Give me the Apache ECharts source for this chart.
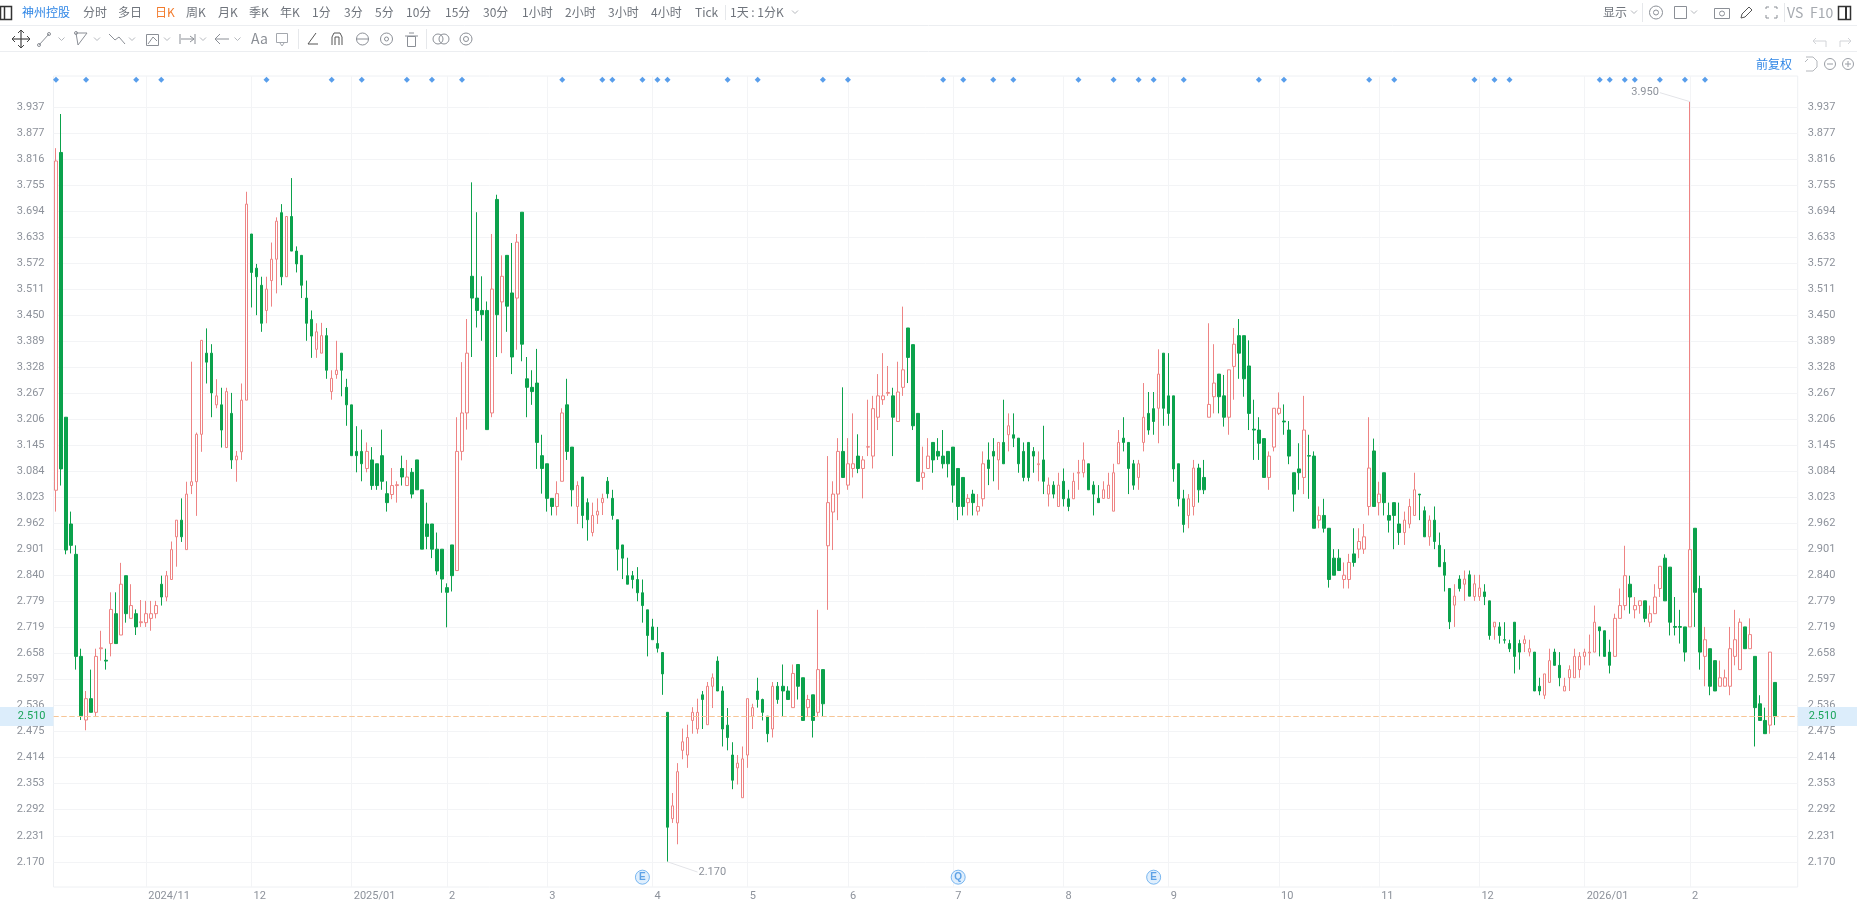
<!DOCTYPE html>
<html><head><meta charset="utf-8">
<style>html,body{margin:0;padding:0;background:#fff;overflow:hidden}#c{width:1857px;height:906px}</style>
<script src="https://cdn.jsdelivr.net/npm/echarts@6/dist/echarts.min.js"></script>
</head><body><div id="c"></div>
<script>
const opens=[3.040,3.831,3.211,2.961,2.890,2.651,2.502,2.552,2.520,2.669,
2.642,2.681,2.751,2.701,2.840,2.740,2.751,2.730,2.730,2.740,
2.751,2.820,2.790,2.831,2.931,2.970,2.901,3.051,3.060,3.171,
3.361,3.361,3.240,3.240,3.140,3.220,3.111,3.130,3.251,3.640,
3.560,3.520,3.461,3.531,3.581,3.690,3.540,3.681,3.600,3.590,
3.490,3.440,3.370,3.361,3.402,3.271,3.311,3.361,3.281,3.240,
3.131,3.131,3.091,3.111,3.102,3.121,3.032,3.030,3.051,3.091,
3.051,3.082,3.111,3.041,2.961,2.961,2.902,2.902,2.812,2.912,
2.852,3.131,3.221,3.541,3.490,3.461,3.461,3.221,3.721,3.481,
3.590,3.502,3.490,3.691,3.301,3.281,3.291,3.121,3.102,3.021,
3.002,3.061,3.240,3.141,3.002,3.071,3.011,2.941,2.982,3.011,
3.061,3.021,2.971,2.912,2.840,2.840,2.831,2.800,2.760,2.720,
2.681,2.660,2.520,2.271,2.261,2.431,2.420,2.501,2.481,2.561,
2.491,2.581,2.640,2.570,2.490,2.420,2.390,2.320,2.420,2.511,
2.570,2.550,2.511,2.481,2.581,2.581,2.570,2.531,2.632,2.601,
2.531,2.561,2.520,2.620,2.910,2.989,3.031,3.131,3.052,3.091,
3.120,3.091,3.141,3.120,3.211,3.252,3.267,3.261,3.201,3.281,
3.420,3.381,3.220,3.070,3.091,3.152,3.131,3.120,3.131,3.141,
3.091,3.070,3.011,3.031,2.991,3.020,3.111,3.131,3.111,3.152,
3.170,3.170,3.162,3.131,3.152,3.131,3.100,3.111,3.031,3.052,
3.002,3.061,3.020,3.020,3.080,3.081,3.102,3.052,3.021,3.021,
3.021,2.991,3.102,3.162,3.152,3.102,3.070,3.152,3.220,3.231,
3.232,3.361,3.261,3.261,3.102,3.020,2.981,3.002,3.092,3.070,
3.211,3.259,3.312,3.261,3.211,3.330,3.402,3.402,3.331,3.183,
3.181,3.161,3.070,3.141,3.220,3.202,3.181,3.081,3.090,3.070,
3.121,3.120,2.970,2.981,2.951,2.881,2.881,2.831,2.831,2.891,
2.902,2.902,3.002,3.132,3.011,3.081,2.981,3.011,2.961,2.941,
2.961,2.981,3.031,2.992,2.931,2.970,2.911,2.871,2.810,2.771,
2.832,2.820,2.842,2.791,2.791,2.802,2.781,2.720,2.720,2.690,
2.681,2.731,2.681,2.681,2.661,2.661,2.581,2.560,2.590,2.661,
2.630,2.570,2.601,2.601,2.620,2.651,2.659,2.661,2.720,2.711,
2.661,2.651,2.740,2.770,2.820,2.760,2.770,2.781,2.731,2.751,
2.810,2.881,2.860,2.721,2.721,2.720,2.720,2.951,2.810,2.651,
2.669,2.641,2.581,2.581,2.581,2.651,2.620,2.720,2.669,2.651,
2.540,2.501,2.490,2.590];
const closes=[3.811,3.090,2.900,2.911,2.651,2.512,2.552,2.520,2.651,2.671,
2.640,2.761,2.681,2.820,2.751,2.770,2.720,2.732,2.751,2.751,
2.770,2.790,2.840,2.901,2.970,2.931,3.031,3.060,3.171,3.391,
3.340,3.268,3.261,3.181,3.271,3.111,3.120,3.251,3.710,3.550,
3.540,3.431,3.511,3.581,3.670,3.540,3.681,3.600,3.570,3.520,
3.431,3.401,3.411,3.402,3.321,3.302,3.321,3.321,3.240,3.121,
3.121,3.102,3.131,3.051,3.051,3.061,3.011,3.051,3.053,3.071,
3.071,3.031,3.041,2.902,2.932,2.902,2.851,2.832,2.801,2.840,
3.131,3.221,3.361,3.490,3.461,3.451,3.182,3.511,3.451,3.541,
3.471,3.352,3.621,3.382,3.281,3.271,3.152,3.091,3.021,3.002,
3.032,3.221,3.131,3.041,3.051,2.981,2.971,2.981,2.991,3.021,
3.032,2.981,2.902,2.881,2.820,2.831,2.800,2.770,2.700,2.690,
2.670,2.610,2.251,2.301,2.381,2.451,2.461,2.520,2.520,2.550,
2.581,2.601,2.570,2.481,2.461,2.361,2.401,2.411,2.552,2.531,
2.550,2.520,2.470,2.581,2.550,2.570,2.550,2.611,2.581,2.501,
2.550,2.501,2.620,2.540,3.011,3.031,3.131,3.070,3.102,3.102,
3.091,3.111,3.142,3.231,3.261,3.261,3.269,3.211,3.270,3.322,
3.351,3.191,3.061,3.081,3.120,3.111,3.120,3.102,3.102,3.052,
3.002,3.002,3.021,3.011,3.002,3.102,3.091,3.120,3.152,3.102,
3.191,3.162,3.102,3.070,3.070,3.120,3.102,3.061,3.052,3.031,
3.052,3.020,3.002,3.061,3.082,3.111,3.041,3.031,3.011,3.041,
3.052,3.081,3.152,3.152,3.091,3.052,3.102,3.211,3.181,3.201,
3.312,3.232,3.220,3.090,3.020,2.960,3.020,3.092,3.041,3.041,
3.241,3.291,3.259,3.211,3.322,3.382,3.361,3.301,3.220,3.181,
3.150,3.070,3.120,3.232,3.232,3.200,3.120,3.031,3.081,3.181,
3.120,2.951,2.981,2.951,2.831,2.841,2.852,2.841,2.871,2.871,
2.920,2.931,3.092,3.002,3.031,3.011,2.970,2.981,2.941,2.970,
3.002,3.041,3.029,2.931,2.970,2.920,2.861,2.841,2.732,2.792,
2.810,2.832,2.792,2.821,2.811,2.791,2.700,2.731,2.700,2.689,
2.669,2.651,2.661,2.690,2.669,2.570,2.570,2.610,2.641,2.630,
2.601,2.581,2.620,2.651,2.651,2.661,2.661,2.731,2.711,2.651,
2.630,2.740,2.770,2.840,2.790,2.770,2.781,2.740,2.751,2.790,
2.862,2.781,2.731,2.719,2.719,2.661,2.901,2.801,2.661,2.690,
2.581,2.570,2.601,2.601,2.669,2.690,2.731,2.669,2.702,2.531,
2.501,2.470,2.661,2.510];
const lows=[2.990,3.051,2.890,2.892,2.620,2.502,2.478,2.520,2.511,2.641,
2.620,2.651,2.681,2.701,2.730,2.740,2.701,2.720,2.720,2.711,
2.740,2.770,2.780,2.831,2.861,2.919,2.901,3.031,2.980,3.130,
3.290,3.211,3.232,3.140,3.140,3.090,3.060,3.111,3.251,3.468,
3.450,3.411,3.431,3.470,3.501,3.520,3.540,3.600,3.550,3.490,
3.390,3.350,3.350,3.361,3.301,3.252,3.301,3.260,3.191,3.121,
3.082,3.061,3.082,3.041,3.041,3.041,2.990,3.019,3.011,3.051,
3.051,3.021,3.041,2.902,2.902,2.881,2.842,2.800,2.719,2.803,
2.852,3.110,3.182,3.352,3.421,3.390,3.182,3.211,3.352,3.361,
3.411,3.312,3.369,3.342,3.211,3.240,3.090,3.032,2.990,2.981,
2.981,3.061,3.111,3.002,2.961,2.951,2.922,2.932,2.961,2.982,
3.021,2.971,2.852,2.832,2.820,2.810,2.780,2.730,2.651,2.690,
2.660,2.561,2.170,2.261,2.211,2.410,2.390,2.470,2.470,2.481,
2.491,2.530,2.570,2.440,2.431,2.340,2.351,2.320,2.390,2.481,
2.531,2.501,2.450,2.461,2.540,2.509,2.550,2.531,2.550,2.501,
2.511,2.461,2.511,2.511,2.760,2.900,2.970,3.070,3.041,3.070,
3.080,3.021,3.120,3.091,3.181,3.240,3.261,3.120,3.201,3.261,
3.291,3.181,3.061,3.041,3.091,3.081,3.111,3.091,3.070,3.011,
2.970,2.981,2.981,2.981,2.981,3.002,3.052,3.061,3.041,3.102,
3.131,3.141,3.081,3.061,3.061,3.081,3.061,3.031,3.002,3.021,
3.002,3.002,2.991,3.020,3.041,3.070,3.041,2.981,3.011,3.021,
3.021,2.991,3.102,3.131,3.031,3.041,3.041,3.131,3.170,3.170,
3.150,3.191,3.191,3.060,3.002,2.941,2.951,2.981,3.011,3.031,
3.211,3.220,3.220,3.189,3.170,3.252,3.301,3.259,3.181,3.111,
3.111,3.070,3.041,3.131,3.216,3.170,3.101,2.990,3.041,3.031,
3.020,2.951,2.951,2.941,2.812,2.841,2.852,2.810,2.810,2.861,
2.881,2.891,2.981,3.002,2.981,2.981,2.941,2.902,2.912,2.912,
2.951,2.981,2.970,2.931,2.910,2.902,2.861,2.803,2.715,2.720,
2.803,2.781,2.792,2.781,2.781,2.771,2.690,2.690,2.681,2.681,
2.661,2.611,2.620,2.661,2.651,2.570,2.560,2.551,2.590,2.630,
2.581,2.570,2.570,2.601,2.601,2.630,2.630,2.661,2.651,2.651,
2.611,2.651,2.740,2.759,2.751,2.740,2.751,2.731,2.720,2.751,
2.790,2.781,2.700,2.700,2.681,2.639,2.720,2.720,2.620,2.581,
2.560,2.570,2.581,2.581,2.560,2.630,2.620,2.669,2.669,2.440,
2.501,2.470,2.470,2.490];
const highs=[3.841,3.921,3.211,2.990,2.911,2.669,2.570,2.620,2.669,2.711,
2.669,2.801,2.801,2.870,2.840,2.820,2.761,2.783,2.781,2.781,
2.781,2.840,2.851,2.920,2.970,3.021,3.060,3.341,3.175,3.391,
3.419,3.382,3.300,3.280,3.280,3.268,3.132,3.290,3.739,3.640,
3.570,3.540,3.540,3.620,3.679,3.710,3.681,3.771,3.611,3.590,
3.531,3.461,3.431,3.432,3.420,3.321,3.390,3.361,3.301,3.240,
3.190,3.182,3.152,3.141,3.102,3.182,3.061,3.092,3.061,3.121,
3.111,3.092,3.111,3.041,3.011,2.961,2.941,2.902,2.822,2.912,
3.211,3.340,3.441,3.761,3.691,3.541,3.482,3.640,3.732,3.590,
3.590,3.619,3.640,3.691,3.352,3.321,3.371,3.170,3.102,3.021,
3.061,3.232,3.301,3.141,3.061,3.071,3.021,3.011,3.021,3.032,
3.071,3.041,2.971,2.912,2.882,2.851,2.860,2.831,2.760,2.739,
2.720,2.660,2.520,2.331,2.401,2.482,2.491,2.532,2.552,2.570,
2.591,2.611,2.651,2.581,2.530,2.450,2.420,2.440,2.552,2.540,
2.601,2.552,2.511,2.591,2.591,2.632,2.581,2.632,2.632,2.601,
2.561,2.561,2.760,2.620,3.120,3.061,3.162,3.281,3.162,3.220,
3.171,3.120,3.252,3.261,3.312,3.361,3.331,3.280,3.341,3.470,
3.420,3.381,3.220,3.142,3.162,3.152,3.162,3.181,3.131,3.141,
3.091,3.070,3.031,3.041,3.031,3.131,3.152,3.162,3.152,3.252,
3.220,3.220,3.162,3.152,3.152,3.141,3.131,3.191,3.070,3.061,
3.081,3.091,3.041,3.081,3.111,3.152,3.102,3.061,3.052,3.061,
3.081,3.102,3.181,3.211,3.152,3.111,3.111,3.291,3.270,3.270,
3.370,3.361,3.361,3.261,3.102,3.041,3.031,3.111,3.102,3.111,
3.431,3.382,3.312,3.310,3.322,3.420,3.441,3.402,3.391,3.252,
3.211,3.161,3.131,3.232,3.269,3.241,3.202,3.081,3.150,3.261,
3.170,3.131,3.002,3.020,2.951,2.902,2.902,2.871,2.891,2.951,
2.951,2.961,3.211,3.161,3.060,3.081,3.011,3.011,3.011,2.990,
3.020,3.081,3.031,3.002,2.981,3.002,2.941,2.902,2.810,2.820,
2.841,2.852,2.852,2.842,2.842,2.820,2.781,2.731,2.731,2.731,
2.690,2.731,2.690,2.700,2.690,2.661,2.601,2.610,2.669,2.669,
2.661,2.601,2.630,2.669,2.661,2.669,2.702,2.770,2.720,2.711,
2.690,2.751,2.810,2.910,2.840,2.790,2.781,2.781,2.770,2.820,
2.862,2.890,2.860,2.790,2.760,2.720,3.950,2.951,2.840,2.720,
2.669,2.641,2.641,2.620,2.720,2.760,2.740,2.720,2.740,2.651,
2.560,2.531,2.661,2.590];

const priceTicks=[2.170,2.231,2.292,2.353,2.414,2.475,2.536,2.597,2.658,2.719,2.779,2.840,2.901,2.962,3.023,3.084,3.145,3.206,3.267,3.328,3.389,3.450,3.511,3.572,3.633,3.694,3.755,3.816,3.877,3.937];
const monthIndex=[18,39,59,78,98,119,138,158,179,201,222,244,264,284,305,326];
const monthLabels=['2024/11','12','2025/01','2','3','4','5','6','7','8','9','10','11','12','2026/01','2'];
const noticeIndex=[0,6,16,21,42,55,61,70,75,81,101,109,111,117,120,122,134,140,153,158,177,181,187,191,204,211,216,219,225,240,245,262,267,283,287,290,308,310,313,315,320,325,329];
const eventIndex=[117,180,219];
const eventLetters=['E','Q','E'];
const lastPrice=2.510, highestPrice=3.950, lowestPrice=2.170, highestAt=326, lowestAt=122;
const tabNames=['分时','多日','日K','周K','月K','季K','年K','1分','3分','5分','10分','15分','30分','1小时','2小时','3小时','4小时','Tick'];
const tabLeft=[83,118,155,186,218,249,280,312,344,375,406,445,483,522,565,608,651,695];

const paddedSlots=348;
const categories=Array.from({length:paddedSlots},(_,i)=>String(i));
const candles=opens.map((o,i)=>[o,closes[i],lows[i],highs[i]]);
const axisColor='#8d929b', gridColor='#f3f4f6', blue='#2f86e6', iconColor='#8b8f96';
const font='"Noto Sans CJK SC","Noto Sans",sans-serif';

const g=[];
const text=(x,y,s,fill,size,align)=>g.push({type:'text',silent:true,x,y,style:{text:s,fill:fill||'#6f747c',font:(size||12)+'px '+font,textAlign:align||'left',textVerticalAlign:'middle'}});
const stroke=(c,w)=>({stroke:c||iconColor,fill:'none',lineWidth:w||1});
const poly=(pts,c,w)=>g.push({type:'polyline',silent:true,shape:{points:pts},style:stroke(c,w)});
const circ=(x,y,r,c)=>g.push({type:'circle',silent:true,shape:{cx:x,cy:y,r},style:stroke(c)});
const box=(x,y,w,h,c,lw)=>g.push({type:'rect',silent:true,shape:{x,y,width:w,height:h},style:stroke(c,lw)});
const chev=(x,y)=>poly([[x-3,y-1.5],[x,y+1.5],[x+3,y-1.5]],'#b4b7bc');
const hline=(y)=>g.push({type:'line',silent:true,shape:{x1:0,y1:y,x2:1857,y2:y},style:{stroke:'#eceef1',lineWidth:1}});
const vline=(x,y1,y2)=>g.push({type:'line',silent:true,shape:{x1:x,y1,x2:x,y2},style:{stroke:'#e6e8eb',lineWidth:1}});
hline(25.5);hline(51.5);
// top row
box(0.5,6.5,11,13,'#333',1.5);poly([[4.5,7],[4.5,19]],'#333',1.5);
text(22,12.5,'神州控股',blue);
tabNames.forEach((t,i)=>text(tabLeft[i],12.5,t,t==='日K'?'#f27b2c':'#6f747c'));
vline(725.5,5,20);
text(730,12.5,'1天 : 1分K');chev(795,12);
text(1603,12.5,'显示');chev(1634,12);vline(1642.5,3,22);
circ(1656,12.5,6.5);circ(1656,12.5,2.5);
box(1674.5,6.5,12,12,iconColor);chev(1694,12);
box(1714.5,8.5,15,10,iconColor);circ(1722,13.5,2.5);
poly([[1741,18],[1742,14],[1749,7],[1752,10],[1745,17],[1741,18]],'#555');
poly([[1766,9],[1766,7],[1769,7]]);poly([[1774,7],[1777,7],[1777,9]]);poly([[1766,15],[1766,18],[1769,18]]);poly([[1774,18],[1777,18],[1777,15]]);
vline(1784.5,3,22);
text(1787,12.5,'VS','#a6aab0',14);text(1810,12.5,'F10','#a6aab0',14);
box(1838.5,6.5,12,13,'#333',1.5);poly([[1846,7],[1846,19]],'#333',2);
// second row
poly([[12,39],[30,39]],'#444',1.2);poly([[21,30],[21,48]],'#444',1.2);
poly([[18,33],[21,30],[24,33]],'#444');poly([[18,45],[21,48],[24,45]],'#444');poly([[15,36],[12,39],[15,42]],'#444');poly([[27,36],[30,39],[27,42]],'#444');
poly([[39,45],[49,34]]);circ(39,45,1.5);circ(49,34,1.5);chev(61.5,39);
poly([[76,33],[87,33],[78,45],[76,33]]);circ(76,33,1.5);chev(97,39);
poly([[109,34],[115,40],[119,37],[125,44]]);chev(132,39);
box(146.5,34.5,12,11);poly([[148,44],[153,37],[157,41]]);chev(167,39);
poly([[180,34],[180,44]]);poly([[195,34],[195,44]]);poly([[181,39],[194,39]]);poly([[190,36],[194,39],[190,42]]);chev(203,39);
poly([[215,39],[229,39]]);poly([[220,34],[215,39],[220,44]]);chev(237.5,39);
text(251,39,'Aa','#8b8f96',14);
box(276.5,33.5,11,9,'#a4a8ae');poly([[280,43],[282,46],[284,43]],'#a4a8ae');
vline(298.5,29,49);
poly([[316,33],[308,44],[318,44]],'#555');
poly([[332,45],[332,37],[334,33],[340,33],[342,37],[342,45]],'#555');poly([[335,45],[335,37],[339,37],[339,45]],'#555');
circ(362.5,39,6);poly([[356,39],[369,39]]);
circ(386.5,39,6);circ(386.5,39,2);
box(407.5,36.5,8,10);poly([[405,36],[418,36]]);poly([[409,33],[414,33]]);
vline(426.5,29,49);
circ(438,39,5);circ(444,39,5);
circ(466,39,6);circ(466,39,2.5);
poly([[1816,38],[1813,41],[1816,44]],'#d2d4d8');poly([[1813,41],[1826,41],[1826,47]],'#d2d4d8');
poly([[1848,38],[1851,41],[1848,44]],'#d2d4d8');poly([[1851,41],[1840,41],[1840,47]],'#d2d4d8');
// third row
text(1756,64,'前复权',blue);
poly([[1808,59],[1805,62]],'#b4b7bc');poly([[1806,57],[1813,57],[1817,61],[1817,67],[1813,71],[1806,71]],'#b4b7bc');
circ(1830,64,5.5,'#9a9ea5');poly([[1827,64],[1833,64]],'#9a9ea5');
circ(1848,64,5.5,'#9a9ea5');poly([[1845,64],[1851,64]],'#9a9ea5');poly([[1848,61],[1848,67]],'#9a9ea5');

const labelStyle={color:axisColor,fontSize:11,fontFamily:'Roboto,"Noto Sans",sans-serif'};
const yBase={type:'value',min:2.111,max:4.010,scale:true,axisLine:{show:false},
  axisTick:{show:false,customValues:priceTicks}};
const chart=echarts.init(document.getElementById('c'),null,{renderer:'canvas'});
chart.setOption({
  animation:false,
  graphic:g,
  grid:{left:53.5,top:76,width:1744.2,height:811,show:true,borderColor:'#eef0f3',borderWidth:1,backgroundColor:'transparent'},
  xAxis:{type:'category',data:categories,boundaryGap:true,
    axisLine:{show:false},axisTick:{show:false,alignWithLabel:true},
    splitLine:{show:true,alignWithLabel:true,interval:(i)=>monthIndex.includes(i),lineStyle:{color:gridColor}},
    axisLabel:Object.assign({},labelStyle,{interval:(i)=>monthIndex.includes(i),align:'left',margin:4,padding:[0,0,0,2],
      formatter:(v,i)=>monthLabels[monthIndex.indexOf(i)]||''})},
  yAxis:[
    Object.assign({},yBase,{position:'left',splitLine:{show:true,lineStyle:{color:gridColor}},
      axisLabel:Object.assign({},labelStyle,{margin:9,customValues:priceTicks,formatter:v=>v.toFixed(3)})}),
    Object.assign({},yBase,{position:'right',splitLine:{show:false},
      axisLabel:Object.assign({},labelStyle,{margin:10,customValues:priceTicks,formatter:v=>v.toFixed(3)})})
  ],
  series:[
    {type:'candlestick',name:'神州控股',data:candles,barWidth:3,
      itemStyle:{color:'#ffffff',color0:'#0ba24c',borderColor:'#ee8484',borderColor0:'#0ba24c',borderWidth:1},
      markLine:{silent:true,symbol:'none',animation:false,z:6,
        lineStyle:{color:'#f6c596',type:[5,3],width:1},
        data:[
          {yAxis:lastPrice,label:{position:'start',distance:0,formatter:lastPrice.toFixed(3),color:'#19a45a',fontSize:11,fontFamily:'Roboto,sans-serif',backgroundColor:'#dcedfb',padding:[4,8,4,20]}},
          {yAxis:lastPrice,label:{position:'end',distance:0,formatter:lastPrice.toFixed(3),color:'#19a45a',fontSize:11,fontFamily:'Roboto,sans-serif',backgroundColor:'#dcedfb',padding:[4,22,4,11]}},
          [{coord:[highestAt,highestPrice],symbol:'none',lineStyle:{color:'#e3e4e8',type:'solid',width:1}},
           {coord:[highestAt-5.6,highestPrice+0.021],symbol:'none',label:{show:true,position:'end',distance:1,formatter:highestPrice.toFixed(3),color:axisColor,fontSize:11,fontFamily:'Roboto,sans-serif'}}],
          [{coord:[lowestAt,lowestPrice],symbol:'none',lineStyle:{color:'#e3e4e8',type:'solid',width:1}},
           {coord:[lowestAt+5.6,lowestPrice-0.024],symbol:'none',label:{show:true,position:'end',distance:1,formatter:lowestPrice.toFixed(3),color:axisColor,fontSize:11,fontFamily:'Roboto,sans-serif'}}]
        ]}},
    {type:'scatter',name:'公告',symbol:'diamond',symbolSize:6,silent:true,clip:false,
      data:noticeIndex.map(i=>[i,4.001]),itemStyle:{color:blue}},
    {type:'scatter',name:'事件',symbol:'circle',symbolSize:14,silent:true,clip:false,
      data:eventIndex.map((i,k)=>({value:[i,2.134],label:{formatter:eventLetters[k]}})),
      itemStyle:{color:'#d8ebfd',borderColor:'#5ba6ec',borderWidth:1},
      label:{show:true,position:'inside',color:'#3d8fe0',fontSize:10,fontWeight:'bold'}}
  ]
});
</script></body></html>
